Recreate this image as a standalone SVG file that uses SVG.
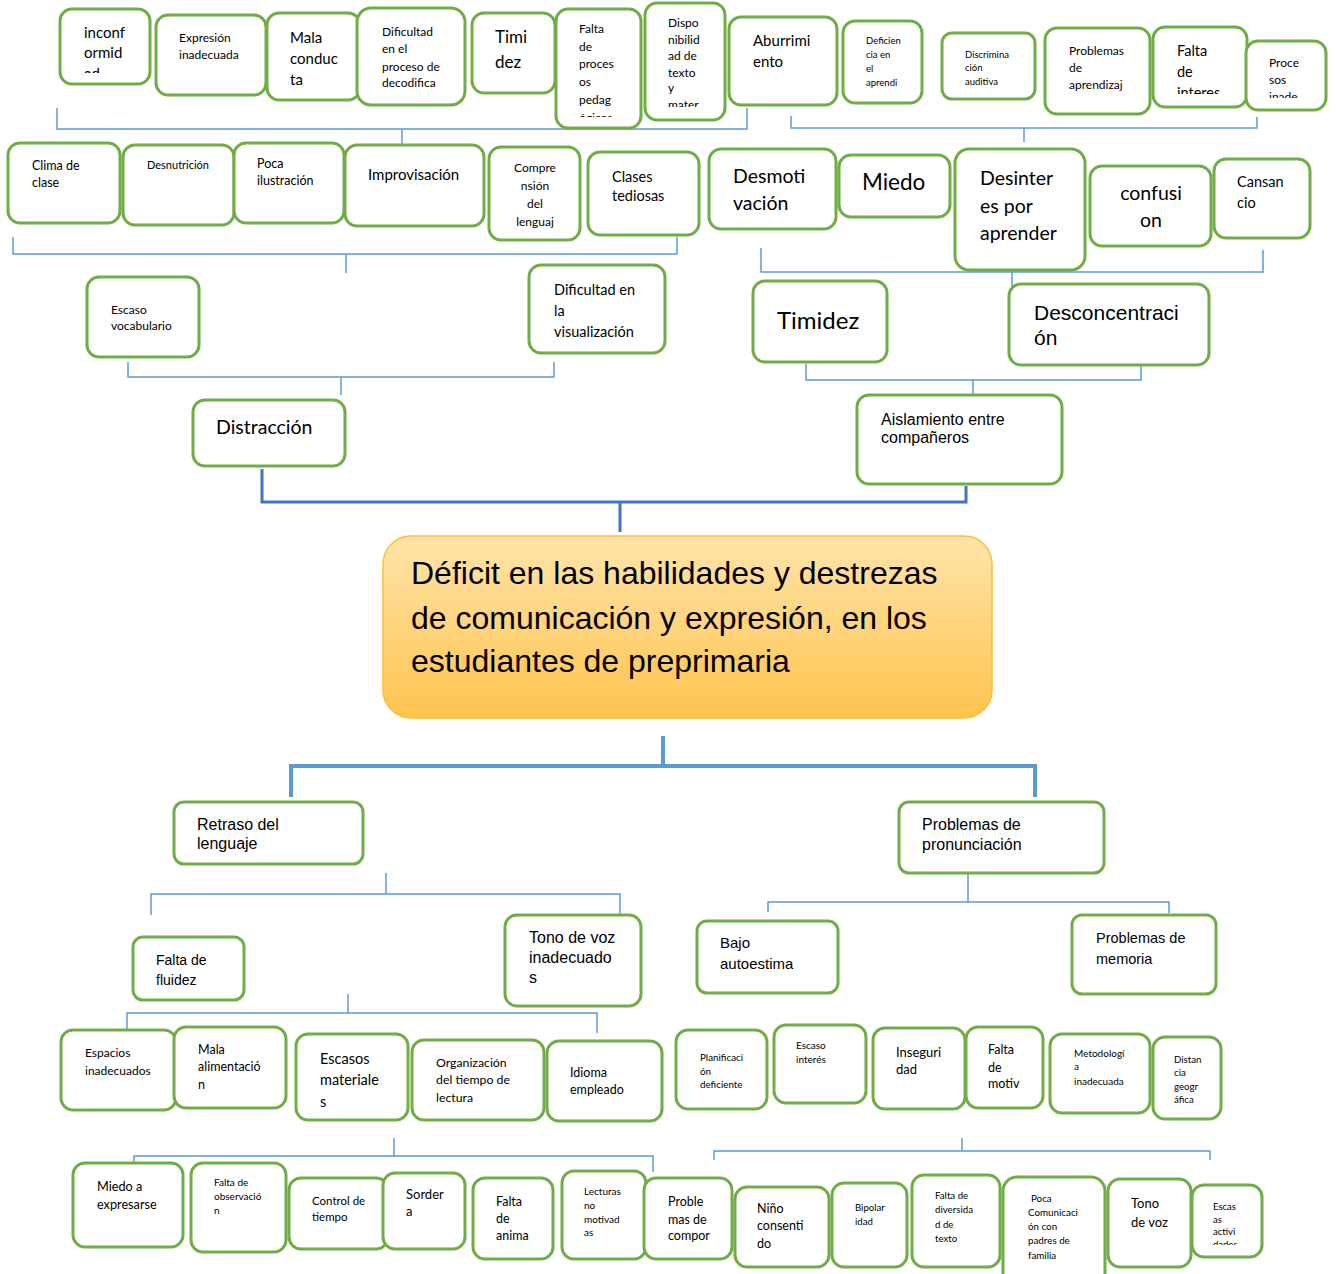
<svg xmlns="http://www.w3.org/2000/svg" width="1336" height="1274" viewBox="0 0 1336 1274">
<style>
.nd{fill:#fff;stroke:#70AD47;stroke-width:3}
.t{font-family:Lato,"Liberation Sans",sans-serif;fill:#000}
.a{font-family:"Liberation Sans",Arial,sans-serif;fill:#000}
.ln{fill:none;stroke:#5B9BD5;stroke-width:1.5}
.lk{fill:none;stroke:#4472C4;stroke-width:3}
.lb{fill:none;stroke:#5B9BD5;stroke-width:4}
</style>
<defs>
<linearGradient id="gc" x1="0" y1="0" x2="0" y2="1">
<stop offset="0" stop-color="#FFE4AA"/>
<stop offset="1" stop-color="#FFC44E"/>
</linearGradient>
<clipPath id="c1"><rect x="60" y="9" width="90" height="64"/></clipPath>
<clipPath id="c6"><rect x="556" y="9" width="85" height="108"/></clipPath>
<clipPath id="c7"><rect x="645" y="3" width="80" height="104"/></clipPath>
<clipPath id="c12"><rect x="1153" y="27" width="94" height="67"/></clipPath>
<clipPath id="c13"><rect x="1246" y="41" width="80" height="57"/></clipPath>
<clipPath id="c61"><rect x="1192" y="1185" width="70" height="60"/></clipPath>
</defs>
<rect width="1336" height="1274" fill="#fff"/>

<g id="connectors">
<polyline class="ln" points="57,108 57,129 747,129 747,108"/>
<line class="ln" x1="402" y1="129" x2="402" y2="150"/>
<polyline class="ln" points="791,116 791,128 1257,128 1257,117"/>
<line class="ln" x1="1024" y1="128" x2="1024" y2="142"/>
<polyline class="ln" points="13,237 13,254 677,254 677,237"/>
<line class="ln" x1="346" y1="254" x2="346" y2="273"/>
<polyline class="ln" points="761,248 761,272 1263,272 1263,250"/>
<line class="ln" x1="1012" y1="272" x2="1012" y2="296"/>
<polyline class="ln" points="128,362 128,377 554,377 554,362"/>
<line class="ln" x1="341" y1="377" x2="341" y2="395"/>
<polyline class="ln" points="806,364 806,380 1141,380 1141,361"/>
<line class="ln" x1="973" y1="380" x2="973" y2="400"/>
<polyline class="lk" points="262,469 262,502 966,502 966,486"/>
<line class="lk" x1="620" y1="502" x2="620" y2="532"/>
<line class="lb" x1="663" y1="736" x2="663" y2="766"/>
<polyline class="lb" points="291,797 291,766 1035,766 1035,797"/>
<line class="ln" x1="386" y1="873" x2="386" y2="894"/>
<polyline class="ln" points="151,915 151,894 620,894 620,915"/>
<line class="ln" x1="968" y1="873" x2="968" y2="902"/>
<polyline class="ln" points="768,912 768,902 1169,902 1169,913"/>
<line class="ln" x1="348" y1="994" x2="348" y2="1013"/>
<polyline class="ln" points="127,1032 127,1013 597,1013 597,1033"/>
<line class="ln" x1="394" y1="1138" x2="394" y2="1156"/>
<polyline class="ln" points="134,1174 134,1156 653,1156 653,1172"/>
<line class="ln" x1="962" y1="1138" x2="962" y2="1151"/>
<polyline class="ln" points="714,1160 714,1151 1210,1151 1210,1160"/>
</g>

<g id="n-inconformidad"><rect class="nd" x="60" y="9" width="90" height="75" rx="12"/><g clip-path="url(#c1)"><text class="t" font-size="15"><tspan x="84" y="38">inconf</tspan><tspan x="84" y="58">ormid</tspan><tspan x="84" y="79">ad</tspan></text></g></g>
<g id="n-expresion"><rect class="nd" x="156" y="15" width="110" height="80" rx="12"/><text class="t" font-size="12"><tspan x="179" y="42">Expresión</tspan><tspan x="179" y="59">inadecuada</tspan></text></g>
<g id="n-mala-conducta"><rect class="nd" x="267" y="13" width="93" height="87" rx="12"/><text class="t" font-size="15"><tspan x="290" y="43">Mala</tspan><tspan x="290" y="64">conduc</tspan><tspan x="290" y="85">ta</tspan></text></g>
<g id="n-dificultad-decodifica"><rect class="nd" x="357" y="8" width="108" height="97" rx="14"/><text class="t" font-size="12"><tspan x="382" y="36">Dificultad</tspan><tspan x="382" y="53">en el</tspan><tspan x="382" y="71">proceso de</tspan><tspan x="382" y="87">decodifica</tspan></text></g>
<g id="n-timidez-top"><rect class="nd" x="472" y="13" width="83" height="80" rx="12"/><text class="t" font-size="17"><tspan x="495" y="43">Timi</tspan><tspan x="495" y="68">dez</tspan></text></g>
<g id="n-falta-procesos"><rect class="nd" x="556" y="9" width="85" height="119" rx="12"/><g clip-path="url(#c6)"><text class="t" font-size="12"><tspan x="579" y="33">Falta</tspan><tspan x="579" y="51">de</tspan><tspan x="579" y="68">proces</tspan><tspan x="579" y="86">os</tspan><tspan x="579" y="104">pedag</tspan><tspan x="579" y="122">ógicos</tspan></text></g></g>
<g id="n-disponibilidad"><rect class="nd" x="645" y="3" width="80" height="117" rx="12"/><g clip-path="url(#c7)"><text class="t" font-size="12"><tspan x="668" y="27">Dispo</tspan><tspan x="668" y="44">nibilid</tspan><tspan x="668" y="60">ad de</tspan><tspan x="668" y="77">texto</tspan><tspan x="668" y="92">y</tspan><tspan x="668" y="109">mater</tspan></text></g></g>
<g id="n-aburrimiento"><rect class="nd" x="729" y="17" width="108" height="88" rx="12"/><text class="t" font-size="15"><tspan x="753" y="46">Aburrimi</tspan><tspan x="753" y="67">ento</tspan></text></g>
<g id="n-deficiencia"><rect class="nd" x="843" y="21" width="79" height="82" rx="12"/><text class="t" font-size="9.5"><tspan x="866" y="44">Deficien</tspan><tspan x="866" y="58">cia en</tspan><tspan x="866" y="72">el</tspan><tspan x="866" y="86">aprendi</tspan></text></g>
<g id="n-discriminacion"><rect class="nd" x="942" y="33" width="93" height="66" rx="10"/><text class="t" font-size="9.5"><tspan x="965" y="58">Discrimina</tspan><tspan x="965" y="71">ción</tspan><tspan x="965" y="85">auditiva</tspan></text></g>
<g id="n-problemas-aprendizaje"><rect class="nd" x="1045" y="28" width="105" height="86" rx="12"/><text class="t" font-size="12"><tspan x="1069" y="55">Problemas</tspan><tspan x="1069" y="72">de</tspan><tspan x="1069" y="89">aprendizaj</tspan></text></g>
<g id="n-falta-interes"><rect class="nd" x="1153" y="27" width="94" height="80" rx="12"/><g clip-path="url(#c12)"><text class="t" font-size="14.5"><tspan x="1177" y="56">Falta</tspan><tspan x="1177" y="77">de</tspan><tspan x="1177" y="98">interes</tspan></text></g></g>
<g id="n-procesos-inadecuados"><rect class="nd" x="1246" y="41" width="80" height="69" rx="12"/><g clip-path="url(#c13)"><text class="t" font-size="12"><tspan x="1269" y="67">Proce</tspan><tspan x="1269" y="84">sos</tspan><tspan x="1269" y="101">inade</tspan></text></g></g>

<g id="n-clima"><rect class="nd" x="8" y="143" width="112" height="80" rx="12"/><text class="t" font-size="12.5"><tspan x="32" y="170">Clima de</tspan><tspan x="32" y="187">clase</tspan></text></g>
<g id="n-desnutricion"><rect class="nd" x="123" y="145" width="111" height="80" rx="12"/><text class="t" font-size="11"><tspan x="147" y="169">Desnutrición</tspan></text></g>
<g id="n-poca-ilustracion"><rect class="nd" x="234" y="143" width="110" height="80" rx="12"/><text class="t" font-size="12.5"><tspan x="257" y="168">Poca</tspan><tspan x="257" y="185">ilustración</tspan></text></g>
<g id="n-improvisacion"><rect class="nd" x="345" y="145" width="139" height="81" rx="12"/><text class="t" font-size="15"><tspan x="368" y="180">Improvisación</tspan></text></g>
<g id="n-comprension"><rect class="nd" x="489" y="147" width="91" height="93" rx="12"/><text class="t" font-size="12" text-anchor="middle"><tspan x="535" y="172">Compre</tspan><tspan x="535" y="190">nsión</tspan><tspan x="535" y="208">del</tspan><tspan x="535" y="226">lenguaj</tspan></text></g>
<g id="n-clases-tediosas"><rect class="nd" x="588" y="152" width="111" height="83" rx="12"/><text class="t" font-size="14.5"><tspan x="612" y="182">Clases</tspan><tspan x="612" y="201">tediosas</tspan></text></g>
<g id="n-desmotivacion"><rect class="nd" x="709" y="149" width="127" height="80" rx="12"/><text class="t" font-size="19.5"><tspan x="733" y="183">Desmoti</tspan><tspan x="733" y="210">vación</tspan></text></g>
<g id="n-miedo"><rect class="nd" x="839" y="155" width="111" height="62" rx="12"/><text class="t" font-size="22.5"><tspan x="862" y="190">Miedo</tspan></text></g>
<g id="n-desinteres"><rect class="nd" x="955" y="149" width="130" height="121" rx="14"/><text class="t" font-size="19.5"><tspan x="980" y="185">Desinter</tspan><tspan x="980" y="213">es por</tspan><tspan x="980" y="240">aprender</tspan></text></g>
<g id="n-confusion"><rect class="nd" x="1090" y="166" width="121" height="80" rx="12"/><text class="t" font-size="19.5" text-anchor="middle"><tspan x="1151" y="200">confusi</tspan><tspan x="1151" y="227">on</tspan></text></g>
<g id="n-cansancio"><rect class="nd" x="1214" y="159" width="96" height="79" rx="12"/><text class="t" font-size="14.5"><tspan x="1237" y="187">Cansan</tspan><tspan x="1237" y="208">cio</tspan></text></g>

<g id="n-escaso-vocabulario"><rect class="nd" x="87" y="277" width="112" height="80" rx="12"/><text class="t" font-size="12"><tspan x="111" y="314">Escaso</tspan><tspan x="111" y="330">vocabulario</tspan></text></g>
<g id="n-dificultad-visualizacion"><rect class="nd" x="529" y="265" width="136" height="88" rx="12"/><text class="t" font-size="14.5"><tspan x="554" y="295">Dificultad en</tspan><tspan x="554" y="316">la</tspan><tspan x="554" y="337">visualización</tspan></text></g>
<g id="n-timidez"><rect class="nd" x="753" y="281" width="134" height="81" rx="12"/><text class="t" font-size="24"><tspan x="777" y="329">Timidez</tspan></text></g>
<g id="n-desconcentracion"><rect class="nd" x="1009" y="284" width="200" height="81" rx="12"/><text class="a" font-size="21"><tspan x="1034" y="320">Desconcentraci</tspan><tspan x="1034" y="345">ón</tspan></text></g>
<g id="n-distraccion"><rect class="nd" x="193" y="400" width="152" height="66" rx="12"/><text class="t" font-size="19.5"><tspan x="216" y="434">Distracción</tspan></text></g>
<g id="n-aislamiento"><rect class="nd" x="857" y="395" width="205" height="89" rx="12"/><text class="a" font-size="16"><tspan x="881" y="425">Aislamiento entre</tspan><tspan x="881" y="443">compañeros</tspan></text></g>

<g id="n-central"><rect x="383" y="536" width="609" height="182" rx="28" fill="url(#gc)" stroke="#F8C03A" stroke-width="1.5"/><text class="a" font-size="32"><tspan x="411" y="584">Déficit en las habilidades y destrezas</tspan><tspan x="411" y="629">de comunicación y expresión, en los</tspan><tspan x="411" y="672">estudiantes de preprimaria</tspan></text></g>

<g id="n-retraso"><rect class="nd" x="174" y="802" width="189" height="62" rx="10"/><text class="a" font-size="16"><tspan x="197" y="830">Retraso del</tspan><tspan x="197" y="849">lenguaje</tspan></text></g>
<g id="n-pronunciacion"><rect class="nd" x="899" y="802" width="205" height="71" rx="10"/><text class="a" font-size="16"><tspan x="922" y="830">Problemas de</tspan><tspan x="922" y="850">pronunciación</tspan></text></g>
<g id="n-fluidez"><rect class="nd" x="133" y="937" width="111" height="63" rx="10"/><text class="a" font-size="14"><tspan x="156" y="965">Falta de</tspan><tspan x="156" y="985">fluidez</tspan></text></g>
<g id="n-tono-inadecuados"><rect class="nd" x="505" y="915" width="136" height="91" rx="12"/><text class="a" font-size="16"><tspan x="529" y="943">Tono de voz</tspan><tspan x="529" y="963">inadecuado</tspan><tspan x="529" y="983">s</tspan></text></g>
<g id="n-bajo-autoestima"><rect class="nd" x="697" y="921" width="141" height="72" rx="10"/><text class="a" font-size="15"><tspan x="720" y="948">Bajo</tspan><tspan x="720" y="969">autoestima</tspan></text></g>
<g id="n-memoria"><rect class="nd" x="1072" y="915" width="144" height="79" rx="10"/><text class="a" font-size="14.5"><tspan x="1096" y="943">Problemas de</tspan><tspan x="1096" y="964">memoria</tspan></text></g>

<g id="n-espacios"><rect class="nd" x="61" y="1030" width="115" height="80" rx="12"/><text class="t" font-size="12"><tspan x="85" y="1057">Espacios</tspan><tspan x="85" y="1075">inadecuados</tspan></text></g>
<g id="n-mala-alimentacion"><rect class="nd" x="174" y="1027" width="112" height="81" rx="12"/><text class="t" font-size="12.5"><tspan x="198" y="1054">Mala</tspan><tspan x="198" y="1071">alimentació</tspan><tspan x="198" y="1089">n</tspan></text></g>
<g id="n-escasos-materiales"><rect class="nd" x="296" y="1034" width="112" height="86" rx="12"/><text class="t" font-size="14.5"><tspan x="320" y="1064">Escasos</tspan><tspan x="320" y="1085">materiale</tspan><tspan x="320" y="1107">s</tspan></text></g>
<g id="n-organizacion"><rect class="nd" x="412" y="1040" width="132" height="80" rx="12"/><text class="t" font-size="12.3"><tspan x="436" y="1067">Organización</tspan><tspan x="436" y="1084">del tiempo de</tspan><tspan x="436" y="1102">lectura</tspan></text></g>
<g id="n-idioma"><rect class="nd" x="547" y="1041" width="115" height="80" rx="12"/><text class="t" font-size="12.5"><tspan x="570" y="1077">Idioma</tspan><tspan x="570" y="1094">empleado</tspan></text></g>
<g id="n-planificacion"><rect class="nd" x="676" y="1030" width="91" height="79" rx="12"/><text class="t" font-size="9.8"><tspan x="700" y="1061">Planificaci</tspan><tspan x="700" y="1075">ón</tspan><tspan x="700" y="1088">deficiente</tspan></text></g>
<g id="n-escaso-interes"><rect class="nd" x="774" y="1025" width="92" height="78" rx="12"/><text class="t" font-size="10"><tspan x="796" y="1049">Escaso</tspan><tspan x="796" y="1063">interés</tspan></text></g>
<g id="n-inseguridad"><rect class="nd" x="873" y="1028" width="92" height="81" rx="12"/><text class="t" font-size="13"><tspan x="896" y="1057">Inseguri</tspan><tspan x="896" y="1074">dad</tspan></text></g>
<g id="n-falta-motiv"><rect class="nd" x="966" y="1027" width="77" height="81" rx="12"/><text class="t" font-size="12.5"><tspan x="988" y="1054">Falta</tspan><tspan x="988" y="1072">de</tspan><tspan x="988" y="1088">motiv</tspan></text></g>
<g id="n-metodologia"><rect class="nd" x="1050" y="1034" width="100" height="79" rx="12"/><text class="t" font-size="10"><tspan x="1074" y="1057">Metodologí</tspan><tspan x="1074" y="1070">a</tspan><tspan x="1074" y="1085">inadecuada</tspan></text></g>
<g id="n-distancia"><rect class="nd" x="1153" y="1037" width="68" height="82" rx="12"/><text class="t" font-size="9.7"><tspan x="1174" y="1063">Distan</tspan><tspan x="1174" y="1076">cia</tspan><tspan x="1174" y="1090">geogr</tspan><tspan x="1174" y="1103">áfica</tspan></text></g>

<g id="n-miedo-expresarse"><rect class="nd" x="73" y="1163" width="110" height="84" rx="12"/><text class="t" font-size="12.7"><tspan x="97" y="1191">Miedo a</tspan><tspan x="97" y="1209">expresarse</tspan></text></g>
<g id="n-observacion"><rect class="nd" x="191" y="1163" width="95" height="89" rx="12"/><text class="t" font-size="10"><tspan x="214" y="1186">Falta de</tspan><tspan x="214" y="1200">observació</tspan><tspan x="214" y="1214">n</tspan></text></g>
<g id="n-control-tiempo"><rect class="nd" x="289" y="1178" width="99" height="71" rx="12"/><text class="t" font-size="11.5"><tspan x="312" y="1205">Control de</tspan><tspan x="312" y="1221">tiempo</tspan></text></g>
<g id="n-sordera"><rect class="nd" x="383" y="1173" width="82" height="76" rx="12"/><text class="t" font-size="13"><tspan x="406" y="1199">Sorder</tspan><tspan x="406" y="1216">a</tspan></text></g>
<g id="n-falta-anima"><rect class="nd" x="473" y="1178" width="80" height="81" rx="12"/><text class="t" font-size="12.5"><tspan x="496" y="1206">Falta</tspan><tspan x="496" y="1223">de</tspan><tspan x="496" y="1240">anima</tspan></text></g>
<g id="n-lecturas"><rect class="nd" x="562" y="1171" width="84" height="88" rx="12"/><text class="t" font-size="10"><tspan x="584" y="1195">Lecturas</tspan><tspan x="584" y="1209">no</tspan><tspan x="584" y="1223">motivad</tspan><tspan x="584" y="1236">as</tspan></text></g>
<g id="n-comportamiento"><rect class="nd" x="644" y="1178" width="88" height="81" rx="12"/><text class="t" font-size="12.5"><tspan x="668" y="1206">Proble</tspan><tspan x="668" y="1224">mas de</tspan><tspan x="668" y="1240">compor</tspan></text></g>
<g id="n-consentido"><rect class="nd" x="735" y="1187" width="94" height="80" rx="12"/><text class="t" font-size="12.5"><tspan x="757" y="1213">Niño</tspan><tspan x="757" y="1230">consenti</tspan><tspan x="757" y="1248">do</tspan></text></g>
<g id="n-bipolaridad"><rect class="nd" x="832" y="1183" width="75" height="84" rx="12"/><text class="t" font-size="9.6"><tspan x="855" y="1211">Bipolar</tspan><tspan x="855" y="1225">idad</tspan></text></g>
<g id="n-diversidad"><rect class="nd" x="912" y="1175" width="88" height="92" rx="12"/><text class="t" font-size="9.7"><tspan x="935" y="1199">Falta de</tspan><tspan x="935" y="1213">diversida</tspan><tspan x="935" y="1228">d de</tspan><tspan x="935" y="1242">texto</tspan></text></g>
<g id="n-poca-comunicacion"><rect class="nd" x="1003" y="1177" width="102" height="110" rx="14"/><text class="t" font-size="9.8"><tspan x="1031" y="1202">Poca</tspan><tspan x="1028" y="1216">Comunicaci</tspan><tspan x="1028" y="1230">ón con</tspan><tspan x="1028" y="1244">padres de</tspan><tspan x="1028" y="1259">familia</tspan></text></g>
<g id="n-tono-voz"><rect class="nd" x="1108" y="1179" width="83" height="88" rx="12"/><text class="t" font-size="13"><tspan x="1131" y="1208">Tono</tspan><tspan x="1131" y="1227">de voz</tspan></text></g>
<g id="n-escasas-actividades"><rect class="nd" x="1192" y="1185" width="70" height="72" rx="12"/><g clip-path="url(#c61)"><text class="t" font-size="9.5"><tspan x="1213" y="1210">Escas</tspan><tspan x="1213" y="1223">as</tspan><tspan x="1213" y="1235">activi</tspan><tspan x="1213" y="1248">dades</tspan></text></g></g>
</svg>
